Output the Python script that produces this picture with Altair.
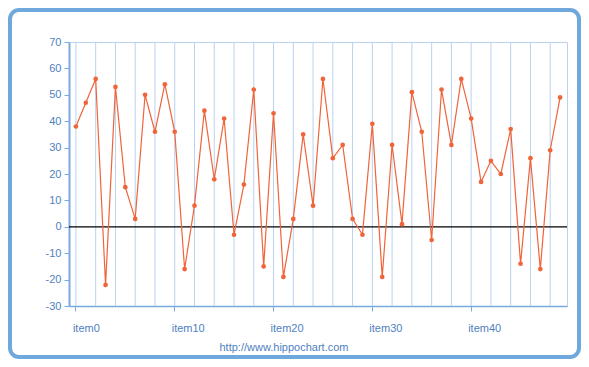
import altair as alt
import pandas as pd

items = [f"item{i}" for i in range(50)]
values = [38, 47, 56, -22, 53, 15, 3, 50, 36, 54,
          36, -16, 8, 44, 18, 41, -3, 16, 52, -15,
          43, -19, 3, 35, 8, 56, 26, 31, 3, -3,
          39, -19, 31, 1, 51, 36, -5, 52, 31, 56,
          41, 17, 25, 20, 37, -14, 26, -16, 29, 49]
label_items = [f"item{i}" for i in range(0, 50, 10)]
y_ticks = list(range(-30, 80, 10))
footer = "http://www.hippochart.com"

df = pd.DataFrame({"item": items, "value": values, "idx": list(range(50))})

FONT = "Liberation Sans"
GRID = "#b9d3ee"
AXIS = "#7aaadc"
LABEL = "#4f7fbf"
LINE = "#f0643a"
FRAME = "#6fa8dc"

xscale = alt.Scale(domain=items, padding=0.4)
yscale = alt.Scale(domain=[-30, 70], nice=False, zero=False)
x_axis = alt.Axis(values=label_items, title=None, grid=False, labelAngle=0,
                  labelAlign="left", labelOffset=-3, labelPadding=11,
                  tickSize=5, tickColor=AXIS, domainColor=AXIS, domainWidth=1.5,
                  labelColor=LABEL, labelFont=FONT, labelFontSize=11)
y_axis = alt.Axis(values=y_ticks, title=None, grid=False, labelOverlap=False,
                  labelExpr="toString(datum.value)", tickCount=11,
                  tickSize=5, labelPadding=3, tickColor=AXIS, domainColor=AXIS,
                  domainWidth=2,
                  labelColor=LABEL, labelFont=FONT, labelFontSize=11)
x_enc = alt.X("item:N", sort=items, scale=xscale, axis=x_axis)
y_enc = alt.Y("value:Q", scale=yscale, axis=y_axis)

base = alt.Chart(df)

grid = base.transform_filter("datum.idx % 2 == 0").mark_rule(
    color=GRID, strokeWidth=1).encode(x=x_enc)

zero = alt.Chart(alt.Data(values=[{}])).mark_rule(color="black", strokeWidth=1.2).encode(
    y=alt.YDatum(0, scale=yscale, axis=y_axis))

line = base.mark_line(color=LINE, strokeWidth=1.2).encode(x=x_enc, y=y_enc)
pts = base.mark_circle(color=LINE, size=22, opacity=1).encode(x=x_enc, y=y_enc)

frame = alt.Chart(alt.Data(values=[{}])).mark_rect(
    fill=None, stroke=FRAME, strokeWidth=4, cornerRadius=9).encode(
    x=alt.value(-59), x2=alt.value(510), y=alt.value(-32), y2=alt.value(315))

text = alt.Chart(alt.Data(values=[{"t": footer}])).mark_text(
    font=FONT, fontSize=11, color=LABEL, align="center", baseline="middle").encode(
    text="t:N", x=alt.value(215), y=alt.value(306))

chart = alt.layer(grid, zero, line, pts, text, frame).properties(
    width=498, height=264,
    autosize=alt.AutoSizeParams(type="none"),
    padding={"left": 61, "top": 34, "right": 14, "bottom": 53},
    background="white",
).configure_view(stroke=GRID, strokeWidth=1)

chart.save("out.html", embed_options={"renderer": "svg", "actions": False})
